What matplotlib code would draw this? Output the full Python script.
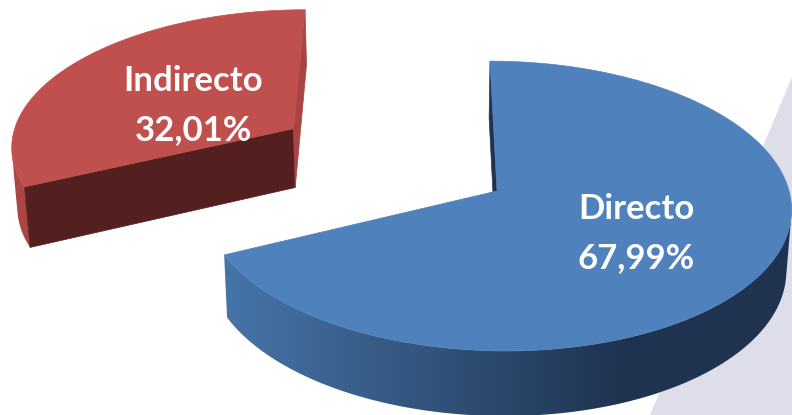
import numpy as np
import matplotlib.pyplot as plt
from matplotlib.patches import Polygon
from matplotlib.colors import to_rgb

labels = ['Directo', 'Indirecto']
values = [67.99, 32.01]
pct_text = ['67,99%', '32,01%']
explode = [0.0, 0.85]

top_colors = ['#4f81bd', '#c0504d']
wall_colors = [('#4675a9', '#1f3350'), ('#ab4644', '#ab4644')]
cut_colors = {  # (slice, which edge) -> colour
    (0, 'start'): '#1f3350', (0, 'end'): '#1f3350',
    (1, 'start'): '#54201f', (1, 'end'): '#a84442',
}
label_pos = [(636, 233), (193, 105)]

# camera / perspective set-up (pixel space, y down)
PHI = np.radians(29.4)
DIST = 8.4
FOCAL = 292 * DIST
CAM_X = 0.257
X0, Y0 = 422, 191
HEIGHT = 0.242
W, H = 792, 415
cam = np.array([-CAM_X, -DIST * np.cos(PHI), DIST * np.sin(PHI)])


def project(X, Y, Z):
    X, Y, Z = np.broadcast_arrays(X, Y, Z)
    depth = DIST + Y * np.cos(PHI) - Z * np.sin(PHI)
    sx = X0 + (X + CAM_X) * FOCAL / depth
    sy = Y0 - (Y * np.sin(PHI) + Z * np.cos(PHI)) * FOCAL / depth
    return np.column_stack([sx, sy])


def facing(normal, point):
    return np.dot(normal, cam - np.asarray(point)) > 0


fig = plt.figure(figsize=(W / 100, H / 100), dpi=100)
ax = fig.add_axes([0, 0, 1, 1])

# back wall of the 3d chart
ax.add_patch(Polygon([(W, 77), (650, H), (W, H)], closed=True,
                     facecolor='#dedeea', edgecolor='none', zorder=0))

total = sum(values)
start = 90.0
slices = []
for i, v in enumerate(values):
    sweep = 360.0 * v / total
    t0, t1 = np.radians(start), np.radians(start - sweep)
    mid = (t0 + t1) / 2
    slices.append((i, t0, t1, mid))
    start -= sweep

xs = np.linspace(0, 1, W)

# draw the exploded (back) slice first
for i, t0, t1, mid in sorted(slices, key=lambda s: -explode[s[0]]):
    ox, oy = explode[i] * np.cos(mid), explode[i] * np.sin(mid)
    z = 10 + (1 - explode[i]) * 10
    ts = np.linspace(t0, t1, 400)
    top = project(ox + np.cos(ts), oy + np.sin(ts), 0.0)
    bot = project(ox + np.cos(ts), oy + np.sin(ts), -HEIGHT)

    # outer wall: keep the part that faces the camera, fill with a gradient
    vis = np.array([facing(np.array([np.cos(t), np.sin(t), 0]),
                           [ox + np.cos(t), oy + np.sin(t), -HEIGHT / 2])
                    for t in ts])
    if vis.any():
        idx = np.where(vis)[0]
        wall = np.vstack([top[idx], bot[idx][::-1]])
        clip = Polygon(wall, closed=True, facecolor='none', edgecolor='none')
        ax.add_patch(clip)
        c1, c2 = np.array(to_rgb(wall_colors[i][0])), np.array(to_rgb(wall_colors[i][1]))
        t = np.clip((xs * W - 225) / 400, 0, 1)[:, None]
        grad = (c1 + (c2 - c1) * t)[None, :, :]
        im = ax.imshow(grad, extent=(0, W, H, 0), aspect='auto',
                       interpolation='bilinear', zorder=z)
        im.set_clip_path(clip)

    # radial cut faces
    for which, t in (('start', t0), ('end', t1)):
        if which == 'start':
            n = np.array([-np.sin(t), np.cos(t), 0])
        else:
            n = np.array([np.sin(t), -np.cos(t), 0])
        p = [ox + 0.5 * np.cos(t), oy + 0.5 * np.sin(t), -HEIGHT / 2]
        if not facing(n, p):
            continue
        pts = project([ox, ox + np.cos(t), ox + np.cos(t), ox],
                      [oy, oy + np.sin(t), oy + np.sin(t), oy],
                      [0, 0, -HEIGHT, -HEIGHT])
        c = cut_colors[(i, which)]
        ax.add_patch(Polygon(pts, closed=True, facecolor=c, edgecolor=c,
                             linewidth=0.5, zorder=z + 1))

    # top face
    apex = project(ox, oy, 0.0)
    face = np.vstack([apex, top])
    ax.add_patch(Polygon(face, closed=True, facecolor=top_colors[i],
                         edgecolor=top_colors[i], linewidth=0.5, zorder=z + 2))

    lx, ly = label_pos[i]
    ax.text(lx, ly - 24, labels[i], ha='center', va='center', color='white',
            fontsize=25, fontweight='bold', family='Lato', zorder=30)
    ax.text(lx, ly + 25, pct_text[i], ha='center', va='center', color='white',
            fontsize=25, fontweight='bold', family='Lato', zorder=30)

ax.set_xlim(0, W)
ax.set_ylim(H, 0)
ax.axis('off')

fig.savefig('out.png', dpi=100)
